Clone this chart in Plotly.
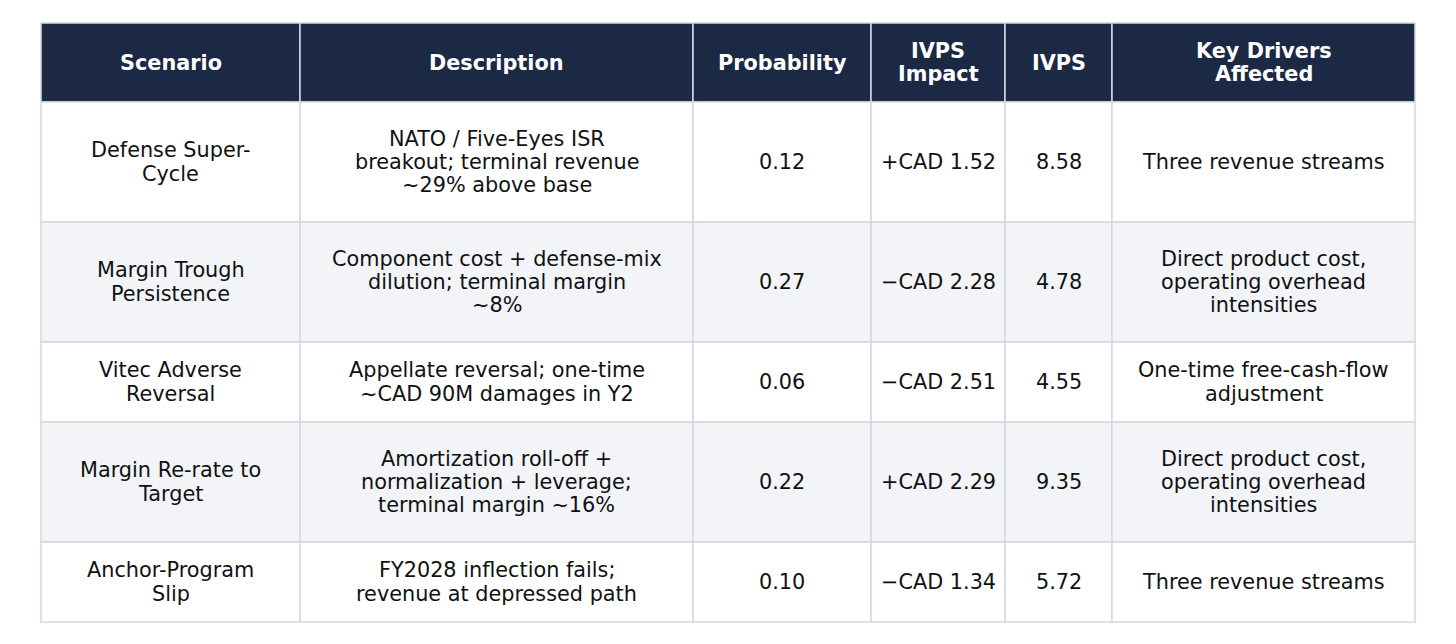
import plotly.graph_objects as go

# ---- data ----
headers = ["Scenario", "Description", "Probability", "IVPS\nImpact", "IVPS", "Key Drivers\nAffected"]
scenarios = [
    "Defense Super-\nCycle",
    "Margin Trough\nPersistence",
    "Vitec Adverse\nReversal",
    "Margin Re-rate to\nTarget",
    "Anchor-Program\nSlip",
]
descriptions = [
    "NATO / Five-Eyes ISR\nbreakout; terminal revenue\n~29% above base",
    "Component cost + defense-mix\ndilution; terminal margin\n~8%",
    "Appellate reversal; one-time\n~CAD 90M damages in Y2",
    "Amortization roll-off +\nnormalization + leverage;\nterminal margin ~16%",
    "FY2028 inflection fails;\nrevenue at depressed path",
]
probability = [0.12, 0.27, 0.06, 0.22, 0.10]
ivps_impact = [1.52, -2.28, -2.51, 2.29, -1.34]
ivps = [8.58, 4.78, 4.55, 9.35, 5.72]
key_drivers = [
    "Three revenue streams",
    "Direct product cost,\noperating overhead\nintensities",
    "One-time free-cash-flow\nadjustment",
    "Direct product cost,\noperating overhead\nintensities",
    "Three revenue streams",
]

# ---- layout / style ----
W, H = 1456, 644
page_offset = 8         # default body margin of the html page
left, top = 41 - page_offset, 23 - page_offset
col_widths = [259, 393, 178, 134, 107, 303]
line_unit = 40          # row height per text line
line_gap = 23.3         # spacing between text lines
font_size = 20.8
header_bg = "#1B2944"
row_bgs = ["#FFFFFF", "#F3F4F8"]
border = "#D3D8E2"
text_color = "#111111"


def fmt_impact(v):
    return ("+" if v >= 0 else "\u2212") + "CAD " + f"{abs(v):.2f}"


rows = []
for i in range(len(scenarios)):
    rows.append([
        scenarios[i],
        descriptions[i],
        f"{probability[i]:.2f}",
        fmt_impact(ivps_impact[i]),
        f"{ivps[i]:.2f}",
        key_drivers[i],
    ])

col_x = [left]
for w in col_widths:
    col_x.append(col_x[-1] + w)

shapes = []
annotations = []


def add_row(cells, y0, height, fill, bold, color):
    for j, txt in enumerate(cells):
        x0, x1 = col_x[j], col_x[j + 1]
        shapes.append(dict(type="rect", xref="x", yref="y", x0=x0, x1=x1, y0=y0, y1=y0 + height,
                           fillcolor=fill, line=dict(color=border, width=1.5), layer="below"))
        lines = txt.split("\n")
        n = len(lines)
        cy = y0 + height / 2
        for k, ln in enumerate(lines):
            yy = cy + (k - (n - 1) / 2) * line_gap
            annotations.append(dict(
                x=(x0 + x1) / 2, y=yy, xref="x", yref="y", text=f"<b>{ln}</b>" if bold else ln,
                showarrow=False, xanchor="center", yanchor="middle",
                font=dict(family="DejaVu Sans", size=font_size, color=color)))


header_h = line_unit * max(len(h.split("\n")) for h in headers) - 1
add_row(headers, top, header_h, header_bg, True, "#FFFFFF")
y = top + header_h
for i, r in enumerate(rows):
    h = line_unit * max(len(c.split("\n")) for c in r)
    add_row(r, y, h, row_bgs[i % 2], False, text_color)
    y += h

fig = go.Figure()
fig.add_trace(go.Scatter(x=[0, W], y=[0, H], mode="markers", marker=dict(opacity=0), hoverinfo="skip",
                         showlegend=False))
fig.update_layout(
    width=W, height=H,
    margin=dict(l=0, r=0, t=0, b=0),
    paper_bgcolor="#FFFFFF", plot_bgcolor="#FFFFFF",
    xaxis=dict(range=[0, W], visible=False, fixedrange=True),
    yaxis=dict(range=[H, 0], visible=False, fixedrange=True),
    shapes=shapes, annotations=annotations,
    showlegend=False,
)
fig.write_html("out.html")
